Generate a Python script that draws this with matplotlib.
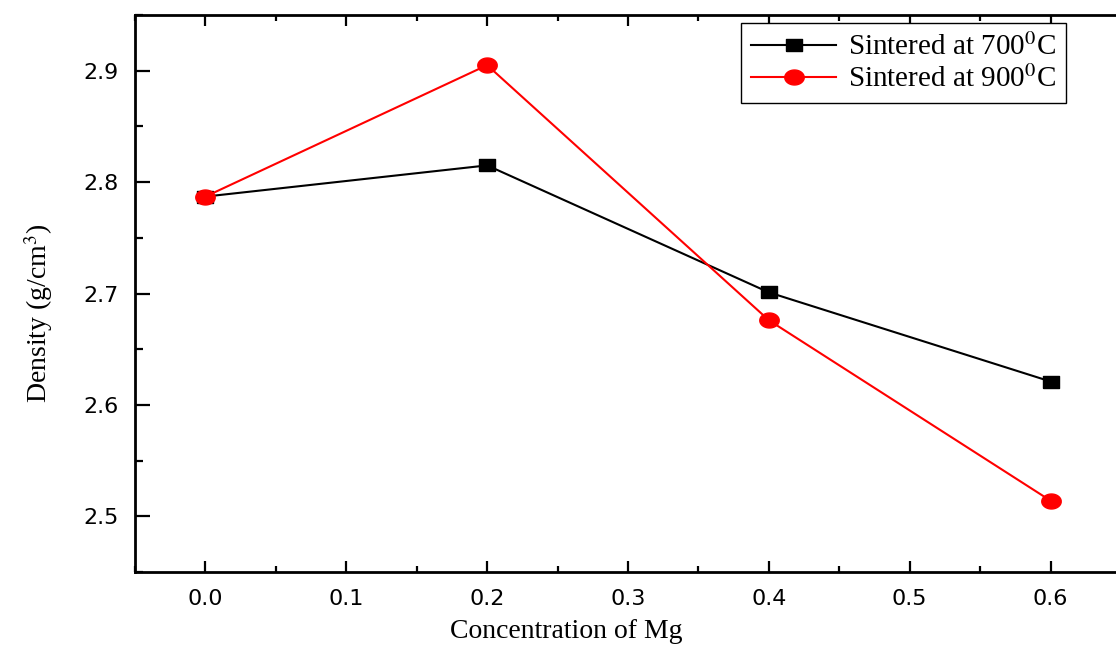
import numpy as np
import matplotlib
matplotlib.use('Agg')
import matplotlib.pyplot as plt

# values
mg = [0.0, 0.2, 0.4, 0.6]
density_700 = [2.787, 2.815, 2.701, 2.621]
density_900 = [2.787, 2.905, 2.676, 2.514]
xticks = [0.0, 0.1, 0.2, 0.3, 0.4, 0.5, 0.6]
yticks = [2.5, 2.6, 2.7, 2.8, 2.9]

plt.rcParams['mathtext.fontset'] = 'stix'

# the reference is stretched sideways, so markers are a bit wide
sq = [(-1.3, -1), (1.3, -1), (1.3, 1), (-1.3, 1), (-1.3, -1)]
t = np.linspace(0, 2 * np.pi, 60)
ell = list(zip(1.3 * np.cos(t), np.sin(t)))

W, H = 1116, 646
fig = plt.figure(figsize=(W / 100, H / 100), dpi=100)
ax = fig.add_axes([135 / W, 1 - 572 / H, 986 / W, 557 / H])

ax.plot(mg, density_700, '-', color='black', lw=1.5, marker=sq, ms=12,
        label=r'Sintered at 700$^\mathrm{0}$C')
ax.plot(mg, density_900, '-', color='red', lw=1.5, marker=ell, ms=14,
        label=r'Sintered at 900$^\mathrm{0}$C')

ax.set_xlim(-0.05, 0.65)
ax.set_ylim(2.45, 2.95)
ax.set_xticks(xticks)
ax.set_xticklabels([f'{v:.1f}' for v in xticks])
ax.set_yticks(yticks)
ax.set_yticklabels([f'{v:.1f}' for v in yticks])
ax.set_xticks(np.arange(-0.05, 0.66, 0.1), minor=True)
ax.set_yticks(np.arange(2.45, 2.96, 0.1), minor=True)

ax.tick_params(which='both', direction='in', top=True, right=False,
               width=1.6, labelsize=16)
ax.tick_params(axis='y', which='major', length=11, pad=12)
ax.tick_params(axis='y', which='minor', length=6)
ax.tick_params(axis='x', which='major', length=8, pad=12)
ax.tick_params(axis='x', which='minor', length=4)
for lab in ax.get_xticklabels() + ax.get_yticklabels():
    lab.set_family('DejaVu Sans')
for s in ax.spines.values():
    s.set_linewidth(2)
ax.spines['right'].set_visible(False)

ax.set_xlabel('Concentration of Mg', family='Liberation Serif', fontsize=20)
ax.xaxis.set_label_coords((566 - 135) / 986, (H - 619 - 74) / 557)
ax.set_ylabel(r'Density (g/cm$^\mathrm{3}$)', family='Liberation Serif', fontsize=20)
ax.yaxis.set_label_coords((55 - 135) / 986, (H - 313 - 74) / 557)

leg = ax.legend(loc='upper right', bbox_to_anchor=(1066 / W, 1 - 23 / H),
                bbox_transform=fig.transFigure, borderaxespad=0,
                prop={'family': 'Liberation Serif', 'size': 21},
                fancybox=False, edgecolor='black', framealpha=1,
                handlelength=2.9, handletextpad=0.4, labelspacing=0.15,
                borderpad=0.35)
leg.get_frame().set_linewidth(1.0)

fig.savefig('out.png', dpi=100)
